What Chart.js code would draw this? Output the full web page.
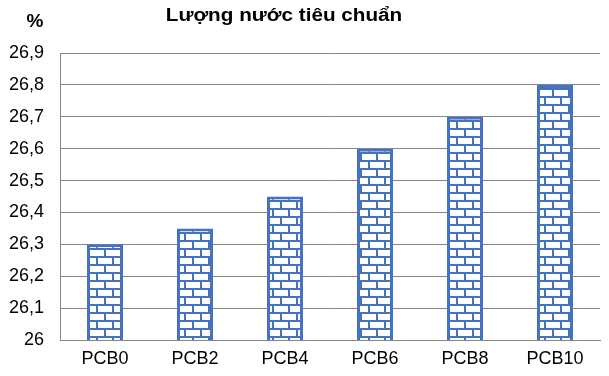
<!DOCTYPE html>
<html>
<head>
<meta charset="utf-8">
<script src="https://cdn.jsdelivr.net/npm/chart.js@4"></script>
<style>
  html, body { margin: 0; padding: 0; background: #fff; }
  #wrap { width: 609px; height: 376px; position: relative; }
</style>
</head>
<body>
<div id="wrap"><canvas id="barchart1"></canvas></div>
<script>
// data
const categories = ['PCB0', 'PCB2', 'PCB4', 'PCB6', 'PCB8', 'PCB10'];
const values = [26.3, 26.35, 26.45, 26.6, 26.7, 26.8];
const yMin = 26, yMax = 26.9, yStep = 0.1;
const chartTitle = 'Lượng nước tiêu chuẩn';
const unitLabel = '%';

// brick pattern for the bars
function brickPattern() {
  const c = document.createElement('canvas');
  c.width = 16; c.height = 16;
  const g = c.getContext('2d');
  g.fillStyle = '#ffffff';
  g.fillRect(0, 0, 16, 16);
  g.fillStyle = '#4472C4';
  g.fillRect(0, 0, 16, 2);
  g.fillRect(0, 8, 16, 2);
  g.fillRect(0, 0, 2, 8);
  g.fillRect(8, 8, 2, 8);
  return g.createPattern(c, 'repeat');
}

// title and unit text (reference is slightly stretched sideways)
const textPlugin = {
  id: 'texts',
  afterDraw(chart) {
    const ctx = chart.ctx;
    ctx.save();
    ctx.fillStyle = '#000';
    ctx.textBaseline = 'middle';
    ctx.textAlign = 'center';
    ctx.font = 'bold 18px "Liberation Sans", Arial, sans-serif';
    ctx.save();
    ctx.translate(284, 16);
    ctx.scale(1.15, 1);
    ctx.fillText(chartTitle, 0, 0);
    ctx.restore();
    ctx.font = 'bold 19px "Liberation Sans", Arial, sans-serif';
    ctx.fillText(unitLabel, 35, 22);
    ctx.restore();
  }
};

const data = {
  labels: categories,
  datasets: [{
    label: chartTitle,
    data: values,
    backgroundColor: brickPattern(),
    borderColor: '#4472C4',
    borderWidth: 3,
    borderSkipped: false,
    barPercentage: 0.4,
    categoryPercentage: 1
  }]
};

new Chart(document.getElementById('barchart1'), {
  type: 'bar',
  data: data,
  plugins: [textPlugin],
  options: {
    responsive: true,
    maintainAspectRatio: false,
    animation: false,
    layout: { padding: { top: 53, right: 9, bottom: 0, left: 0 } },
    plugins: { legend: { display: false }, tooltip: { enabled: false } },
    scales: {
      x: {
        grid: { display: false, drawTicks: false },
        border: { color: '#868686', width: 1 },
        ticks: {
          color: '#000',
          font: { family: '"Liberation Sans", Arial, sans-serif', size: 18 },
          padding: 8
        },
        afterFit(s) { s.height = 36; }
      },
      y: {
        min: yMin,
        max: yMax,
        grid: { color: '#868686', drawTicks: false },
        border: { color: '#868686', width: 1 },
        ticks: {
          stepSize: yStep,
          color: '#000',
          font: { family: '"Liberation Sans", Arial, sans-serif', size: 18 },
          padding: 16,
          callback: v => (Math.round(v * 10) / 10).toString().replace('.', ',')
        },
        afterFit(s) { s.width = 60; }
      }
    }
  }
});
</script>
</body>
</html>
